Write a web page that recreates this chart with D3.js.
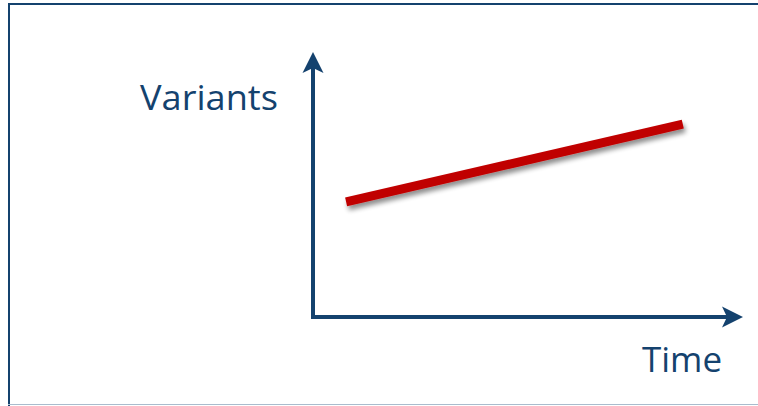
<!DOCTYPE html>
<html lang="en">
<head>
<meta charset="UTF-8">
<title>Variants over time</title>
<script src="https://d3js.org/d3.v7.min.js"></script>
<style>
  html, body { margin: 0; padding: 0; background: #ffffff; }
  svg { display: block; }
</style>
</head>
<body>
<div id="chart"></div>
<script>
// data
const timeValues = [0.77, 8.6];
const variantValues = [4.34, 7.28];
const axisLabels = ["Variants", "Time"];

const width = 758, height = 406;
const navy = "#14426e";
const red = "#c00000";

const svg = d3.select("#chart").append("svg")
    .attr("width", width)
    .attr("height", height);

const defs = svg.append("defs");
const shadow = defs.append("filter").attr("id", "shadow")
    .attr("x", "-10%").attr("y", "-50%").attr("width", "120%").attr("height", "250%");
shadow.append("feGaussianBlur").attr("in", "SourceAlpha").attr("stdDeviation", 2.5);
shadow.append("feOffset").attr("dx", 2).attr("dy", 4).attr("result", "off");
shadow.append("feComponentTransfer").append("feFuncA").attr("type", "linear").attr("slope", 0.45);
const merge = shadow.append("feMerge");
merge.append("feMergeNode");
merge.append("feMergeNode").attr("in", "SourceGraphic");

// frame
svg.append("line").attr("x1", 8).attr("y1", 4).attr("x2", 758).attr("y2", 4)
    .attr("stroke", navy).attr("stroke-width", 2);
svg.append("line").attr("x1", 9).attr("y1", 3).attr("x2", 9).attr("y2", 406)
    .attr("stroke", navy).attr("stroke-width", 2);
svg.append("line").attr("x1", 8).attr("y1", 404.5).attr("x2", 758).attr("y2", 404.5)
    .attr("stroke", "#a9bccd").attr("stroke-width", 1);

const x = d3.scaleLinear().domain([0, 10]).range([313, 743]);
const y = d3.scaleLinear().domain([0, 10]).range([317, 52]);

// axes
const axisW = 4;
svg.append("line")
    .attr("x1", x(0)).attr("y1", y(0) + axisW / 2)
    .attr("x2", x(0)).attr("y2", y(10) + 14)
    .attr("stroke", navy).attr("stroke-width", axisW);
svg.append("line")
    .attr("x1", x(0) - axisW / 2).attr("y1", y(0))
    .attr("x2", x(10) - 14).attr("y2", y(0))
    .attr("stroke", navy).attr("stroke-width", axisW);

// arrow heads
const tipY = [x(0), y(10)];
svg.append("path")
    .attr("d", `M${tipY[0]},${tipY[1]} L${tipY[0] + 10.5},${tipY[1] + 21} L${tipY[0]},${tipY[1] + 16} L${tipY[0] - 10.5},${tipY[1] + 21} Z`)
    .attr("fill", navy);
const tipX = [x(10), y(0)];
svg.append("path")
    .attr("d", `M${tipX[0]},${tipX[1]} L${tipX[0] - 21},${tipX[1] - 10.5} L${tipX[0] - 16},${tipX[1]} L${tipX[0] - 21},${tipX[1] + 10.5} Z`)
    .attr("fill", navy);

// trend line
const line = d3.line().x((d, i) => x(timeValues[i])).y(d => y(d));
svg.append("path")
    .datum(variantValues)
    .attr("d", line)
    .attr("fill", "none")
    .attr("stroke", red)
    .attr("stroke-width", 9)
    .attr("filter", "url(#shadow)");

// labels
svg.append("text")
    .attr("x", 140).attr("y", 110)
    .attr("font-family", "'Open Sans', sans-serif")
    .attr("font-size", 35)
    .attr("textLength", 138)
    .attr("lengthAdjust", "spacingAndGlyphs")
    .attr("fill", navy)
    .text(axisLabels[0]);
svg.append("text")
    .attr("x", 642).attr("y", 372)
    .attr("font-family", "'Open Sans', sans-serif")
    .attr("font-size", 35)
    .attr("textLength", 80)
    .attr("lengthAdjust", "spacingAndGlyphs")
    .attr("fill", navy)
    .text(axisLabels[1]);
</script>
</body>
</html>
